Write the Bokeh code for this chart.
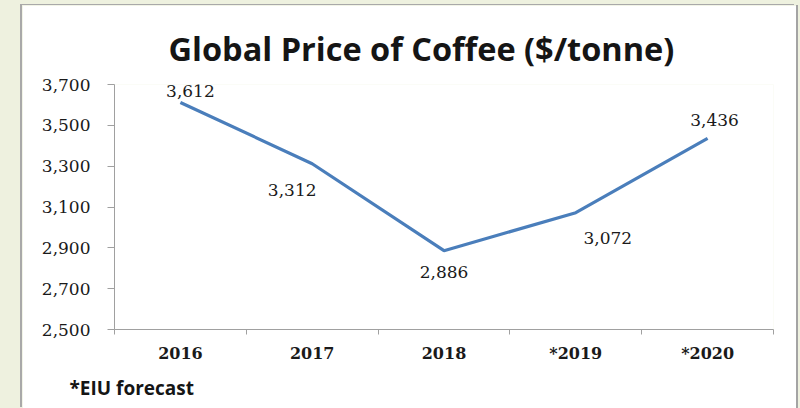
from bokeh.plotting import figure
from bokeh.models import (Range1d, FixedTicker, NumeralTickFormatter, ColumnDataSource,
                          Title, GlobalInlineStyleSheet)
from bokeh.core.properties import value
from bokeh.embed import file_html
from bokeh.resources import INLINE

# ---- data ----
years = ["2016", "2017", "2018", "*2019", "*2020"]
prices = [3612, 3312, 2886, 3072, 3436]
y_ticks = [2500, 2700, 2900, 3100, 3300, 3500, 3700]
title_text = "Global Price of Coffee ($/tonne)"
note_text = "*EIU forecast"

# ---- label placement (pixels, layout only) ----
label_dx = [10, -20, 0, 32, 7]
label_dy = [-11, 26, 21, 25, -18]

n = len(years)
xs = [i + 0.5 for i in range(n)]
src = ColumnDataSource(dict(
    x=xs, y=prices,
    label=[f"{v:,}" for v in prices],
    dx=label_dx, dy=label_dy,
))

p = figure(width=774, height=403,
           x_range=Range1d(0, n), y_range=Range1d(y_ticks[0], y_ticks[-1]),
           output_backend="svg", toolbar_location=None,
           min_border_left=92, min_border_right=23,
           min_border_top=79, min_border_bottom=79)
p.margin = (5, 0, 0, 22)
p.styles = {"box-shadow": "-2px -1px 0 0 #a9a9a9, 2px 0 0 0 #a4a4a4"}
p.stylesheets = [GlobalInlineStyleSheet(css="html, body { background-color: #eef1df; }")]

p.background_fill_color = "white"
p.border_fill_color = "white"
p.outline_line_color = None
p.xgrid.visible = False
p.ygrid.visible = False

# title
p.title.text = title_text
p.title.text_font = "Open Sans"
p.title.text_font_style = "bold"
p.title.text_font_size = "32.5px"
p.title.text_color = "#151515"
p.title.align = "left"
p.title.offset = 54
p.title.standoff = 27

# footnote
p.add_layout(Title(text=note_text, text_font="Open Sans", text_font_style="bold",
                   text_font_size="19px", text_color="#151515",
                   align="left", offset=-45, standoff=15), "below")

axis_gray = "#a0a0a0"

# x axis
xa = p.xaxis[0]
xa.ticker = FixedTicker(ticks=xs, minor_ticks=list(range(n + 1)))
xa.major_label_overrides = {x: y for x, y in zip(xs, years)}
xa.axis_line_color = axis_gray
xa.major_tick_line_color = None
xa.major_tick_out = 0
xa.major_tick_in = 0
xa.minor_tick_line_color = axis_gray
xa.minor_tick_out = 5
xa.minor_tick_in = 0
xa.major_label_standoff = 9
xa.major_label_text_font = "DejaVu Serif"
xa.major_label_text_font_style = "bold"
xa.major_label_text_font_size = "16px"
xa.major_label_text_color = "#1a1a1a"

# y axis
ya = p.yaxis[0]
ya.ticker = FixedTicker(ticks=y_ticks)
ya.formatter = NumeralTickFormatter(format="0,0")
ya.axis_line_color = axis_gray
ya.major_tick_line_color = axis_gray
ya.major_tick_out = 7
ya.major_tick_in = 0
ya.minor_tick_line_color = None
ya.major_label_standoff = 17
ya.major_label_text_font = "DejaVu Serif"
ya.major_label_text_font_size = "17px"
ya.major_label_text_color = "#1a1a1a"

# line
p.line("x", "y", source=src, line_color="#4a7ebb", line_width=3.2)

# data labels
p.text("x", "y", text="label", source=src, x_offset="dx", y_offset="dy",
       text_align="center", text_baseline="middle",
       text_font=value("DejaVu Serif"), text_font_size="17px", text_color="#1a1a1a")

open("out.html", "w").write(file_html(p, INLINE))
